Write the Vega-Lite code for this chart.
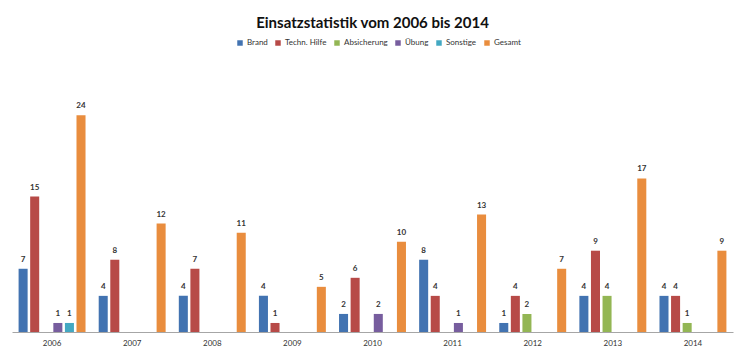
{
  "$schema": "https://vega.github.io/schema/vega-lite/v6.json",
  "width": 721,
  "height": 271,
  "autosize": "none",
  "padding": {"left": 12, "top": 61, "right": 13, "bottom": 26},
  "background": "white",
  "title": {"text": "Einsatzstatistik vom 2006 bis 2014", "font": "Lato", "fontSize": 15, "fontWeight": "bold", "color": "#111111", "anchor": "middle", "offset": 8},
  "config": {"view": {"stroke": null}, "font": "Lato"},
  "data": {"values": [
    {"year": "2006", "series": "Brand", "value": 7},
    {"year": "2006", "series": "Techn. Hilfe", "value": 15},
    {"year": "2006", "series": "Übung", "value": 1},
    {"year": "2006", "series": "Sonstige", "value": 1},
    {"year": "2006", "series": "Gesamt", "value": 24},
    {"year": "2007", "series": "Brand", "value": 4},
    {"year": "2007", "series": "Techn. Hilfe", "value": 8},
    {"year": "2007", "series": "Gesamt", "value": 12},
    {"year": "2008", "series": "Brand", "value": 4},
    {"year": "2008", "series": "Techn. Hilfe", "value": 7},
    {"year": "2008", "series": "Gesamt", "value": 11},
    {"year": "2009", "series": "Brand", "value": 4},
    {"year": "2009", "series": "Techn. Hilfe", "value": 1},
    {"year": "2009", "series": "Gesamt", "value": 5},
    {"year": "2010", "series": "Brand", "value": 2},
    {"year": "2010", "series": "Techn. Hilfe", "value": 6},
    {"year": "2010", "series": "Übung", "value": 2},
    {"year": "2010", "series": "Gesamt", "value": 10},
    {"year": "2011", "series": "Brand", "value": 8},
    {"year": "2011", "series": "Techn. Hilfe", "value": 4},
    {"year": "2011", "series": "Übung", "value": 1},
    {"year": "2011", "series": "Gesamt", "value": 13},
    {"year": "2012", "series": "Brand", "value": 1},
    {"year": "2012", "series": "Techn. Hilfe", "value": 4},
    {"year": "2012", "series": "Absicherung", "value": 2},
    {"year": "2012", "series": "Gesamt", "value": 7},
    {"year": "2013", "series": "Brand", "value": 4},
    {"year": "2013", "series": "Techn. Hilfe", "value": 9},
    {"year": "2013", "series": "Absicherung", "value": 4},
    {"year": "2013", "series": "Gesamt", "value": 17},
    {"year": "2014", "series": "Brand", "value": 4},
    {"year": "2014", "series": "Techn. Hilfe", "value": 4},
    {"year": "2014", "series": "Absicherung", "value": 1},
    {"year": "2014", "series": "Gesamt", "value": 9}
  ]},
  "encoding": {
    "x": {"field": "year", "type": "nominal", "sort": null,
      "scale": {"paddingInner": 0.15, "paddingOuter": 0.075},
      "axis": {"title": null, "labelAngle": 0, "ticks": false, "domainColor": "#A6A6A6", "labelFontSize": 8, "labelColor": "#333333", "labelPadding": 7, "labelFont": "Lato"}},
    "xOffset": {"field": "series", "type": "nominal",
      "scale": {"domain": ["Brand", "Techn. Hilfe", "Absicherung", "Übung", "Sonstige", "Gesamt"], "paddingInner": 0.22, "paddingOuter": 0.05}},
    "y": {"field": "value", "type": "quantitative", "scale": {"domain": [0, 30]}, "axis": null}
  },
  "layer": [
    {
      "mark": {"type": "bar"},
      "encoding": {
        "color": {"field": "series", "type": "nominal",
          "scale": {"domain": ["Brand", "Techn. Hilfe", "Absicherung", "Übung", "Sonstige", "Gesamt"],
                    "range": ["#4273B1", "#B74A47", "#93B654", "#775D9E", "#43A8C2", "#E98D3E"]},
          "legend": {"title": null, "orient": "none", "legendX": 224, "legendY": -22, "direction": "horizontal",
            "symbolType": "square", "symbolSize": 30, "symbolStrokeWidth": 0, "labelFontSize": 8, "labelColor": "#333333",
            "labelFont": "Lato", "columnPadding": 6, "symbolOffset": 0, "labelOffset": 3}}
      }
    },
    {
      "mark": {"type": "text", "baseline": "bottom", "dy": -5, "fontSize": 8, "color": "#333333", "fontWeight": "bold"},
      "encoding": {"text": {"field": "value", "type": "quantitative"}}
    }
  ]
}
